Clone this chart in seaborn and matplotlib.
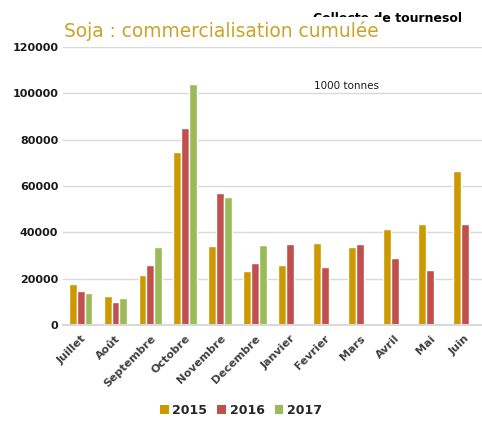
import matplotlib
matplotlib.use("Agg")
import numpy as np
import pandas as pd
import seaborn as sns
from matplotlib import pyplot as plt
from matplotlib.patches import Patch

months = ["Juillet", "Août", "Septembre", "Octobre", "Novembre", "Decembre",
          "Janvier", "Fevrier", "Mars", "Avril", "Mai", "Juin"]
years = ["2015", "2016", "2017"]
v2015 = [17600, 12500, 21400, 74700, 34000, 23500, 26100, 35500, 33800, 41300, 43700, 66500]
v2016 = [14700, 10100, 25900, 85000, 56900, 26700, 35000, 25200, 34800, 29000, 23600, 43700]
v2017 = [13700, 11500, 33600, 104100, 55200, 34400, np.nan, np.nan, np.nan, np.nan, np.nan, np.nan]

colors = {"2015": "#CC9900", "2016": "#C0504D", "2017": "#9BBB59"}

df = pd.DataFrame({
    "mois": months * 3,
    "annee": ["2015"] * 12 + ["2016"] * 12 + ["2017"] * 12,
    "valeur": v2015 + v2016 + v2017,
})

sns.set_style("white")
fig = plt.figure(figsize=(4.82, 4.21), dpi=100)
ax = fig.add_axes([0.131, 0.228, 0.869, 0.66])

sns.barplot(data=df, x="mois", y="valeur", hue="annee", order=months,
            hue_order=years, palette=colors, width=0.68, ax=ax,
            edgecolor="white", linewidth=1.0, saturation=1, legend=False)

ax.set_ylim(0, 120000)
ax.set_yticks(range(0, 120001, 20000))
ax.yaxis.grid(True, color="#D9D9D9", linewidth=1)
ax.set_axisbelow(True)
ax.set_xlabel("")
ax.set_ylabel("")
for s in ["top", "right", "left"]:
    ax.spines[s].set_visible(False)
ax.spines["bottom"].set_color("#D9D9D9")
ax.spines["bottom"].set_linewidth(1.5)
ax.tick_params(length=0)
ax.set_xlim(-0.5, 11.5)

for lab in ax.get_yticklabels():
    lab.set_fontweight("bold")
    lab.set_fontsize(8)
    lab.set_color("#1a1a1a")
ax.set_xticks(range(len(months)))
ax.set_xticklabels(months, rotation=45, ha="right", rotation_mode="anchor",
                   fontsize=8, fontweight="bold", color="#404040")
ax.tick_params(axis="x", pad=6)

ax.text(0.6, 0.85, "1000 tonnes", transform=ax.transAxes, fontsize=7.5,
        color="#1a1a1a")

# titre masqué derrière
fig.text(0.958, 0.956, "Collecte de tournesol", ha="right", va="center",
         fontsize=9, fontweight="bold", color="black")
fig.text(0.133, 0.927, "Soja : commercialisation cumulée", ha="left",
         va="center", fontsize=13.4, color="#C9A227",
         bbox=dict(facecolor="white", edgecolor="none", pad=2.5))

handles = [Patch(facecolor=colors[y], edgecolor="none") for y in years]
fig.legend(handles, years, loc="center", bbox_to_anchor=(0.5, 0.025),
           ncol=3, frameon=False, handlelength=0.7, handleheight=0.7,
           handletextpad=0.3, columnspacing=0.8,
           prop={"weight": "bold", "size": 9})

fig.savefig("out.png", dpi=100)
